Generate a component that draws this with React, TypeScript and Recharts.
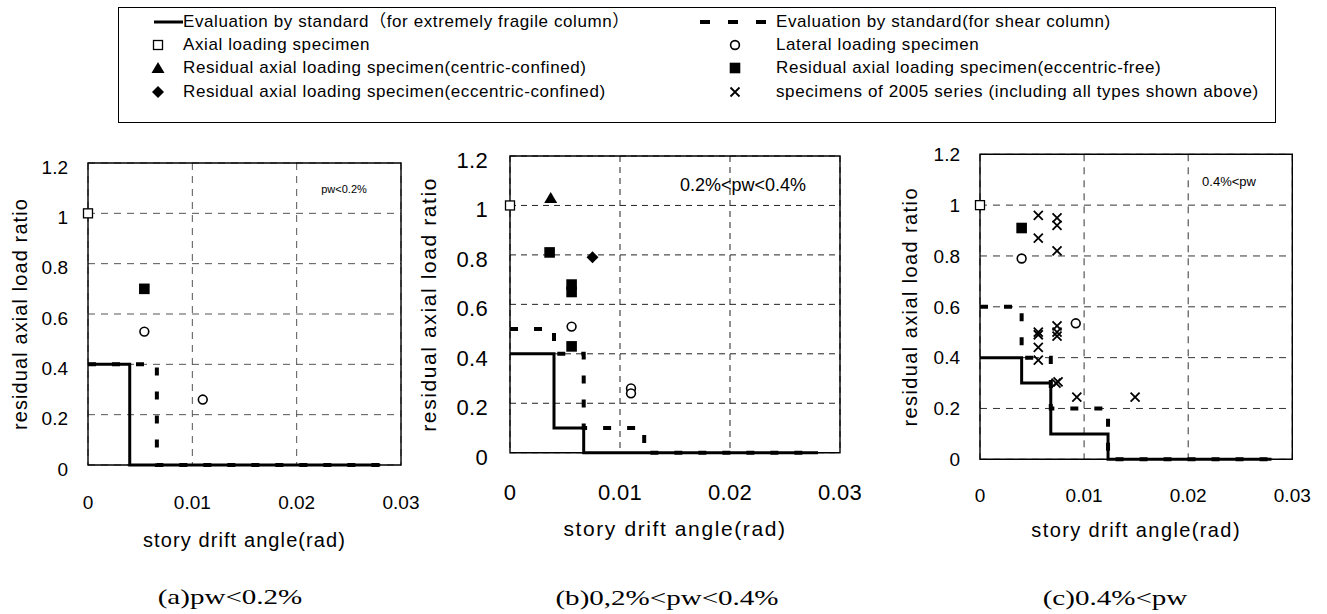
import React from 'react';
import { ComposedChart, Line, Scatter, XAxis, YAxis, CartesianGrid, ReferenceArea, Label } from 'recharts';

type Pt = { x: number; y: number };

const SANS = "'Liberation Sans', Arial, Helvetica, 'Noto Sans CJK JP', sans-serif";
const SERIF = "'Liberation Serif', 'Times New Roman', serif";

const xTicks = [0, 0.01, 0.02, 0.03];
const yTicks = [0, 0.2, 0.4, 0.6, 0.8, 1, 1.2];

// (a) pw<0.2%
const aFragile: Pt[] = [{ x: 0, y: 0.4 }, { x: 0.004, y: 0.4 }, { x: 0.004, y: 0 }, { x: 0.028, y: 0 }];
const aShear: Pt[] = [{ x: 0, y: 0.4 }, { x: 0.0066, y: 0.4 }, { x: 0.0066, y: 0 }, { x: 0.028, y: 0 }];
const aAxial: Pt[] = [{ x: 0, y: 1.0 }];
const aLateral: Pt[] = [{ x: 0.0054, y: 0.53 }, { x: 0.011, y: 0.26 }];
const aEccFree: Pt[] = [{ x: 0.0054, y: 0.7 }];

// (b) 0.2%<pw<0.4%
const bFragile: Pt[] = [
  { x: 0, y: 0.4 }, { x: 0.004, y: 0.4 }, { x: 0.004, y: 0.1 }, { x: 0.0067, y: 0.1 },
  { x: 0.0067, y: 0 }, { x: 0.028, y: 0 },
];
const bShear: Pt[] = [
  { x: 0, y: 0.5 }, { x: 0.004, y: 0.5 }, { x: 0.004, y: 0.4 }, { x: 0.0067, y: 0.4 },
  { x: 0.0067, y: 0.1 }, { x: 0.0122, y: 0.1 }, { x: 0.0122, y: 0 }, { x: 0.028, y: 0 },
];
const bAxial: Pt[] = [{ x: 0, y: 1.0 }];
const bCentric: Pt[] = [{ x: 0.0037, y: 1.03 }];
const bEccFree: Pt[] = [{ x: 0.0036, y: 0.81 }, { x: 0.0056, y: 0.68 }, { x: 0.0056, y: 0.65 }, { x: 0.0056, y: 0.43 }];
const bEccConf: Pt[] = [{ x: 0.0075, y: 0.79 }];
const bLateral: Pt[] = [{ x: 0.0056, y: 0.51 }, { x: 0.011, y: 0.26 }, { x: 0.011, y: 0.24 }];

// (c) 0.4%<pw
const cFragile: Pt[] = [
  { x: 0, y: 0.4 }, { x: 0.004, y: 0.4 }, { x: 0.004, y: 0.3 }, { x: 0.0068, y: 0.3 },
  { x: 0.0068, y: 0.1 }, { x: 0.0123, y: 0.1 }, { x: 0.0123, y: 0 }, { x: 0.028, y: 0 },
];
const cShear: Pt[] = [
  { x: 0, y: 0.6 }, { x: 0.004, y: 0.6 }, { x: 0.004, y: 0.4 }, { x: 0.0068, y: 0.4 },
  { x: 0.0068, y: 0.2 }, { x: 0.0123, y: 0.2 }, { x: 0.0123, y: 0 }, { x: 0.028, y: 0 },
];
const cAxial: Pt[] = [{ x: 0, y: 1.0 }];
const cEccFree: Pt[] = [{ x: 0.004, y: 0.91 }];
const cLateral: Pt[] = [{ x: 0.004, y: 0.79 }, { x: 0.0092, y: 0.535 }];
const c2005: Pt[] = [
  { x: 0.0056, y: 0.96 }, { x: 0.0074, y: 0.95 }, { x: 0.0074, y: 0.92 }, { x: 0.0056, y: 0.87 },
  { x: 0.0074, y: 0.82 }, { x: 0.0056, y: 0.5 }, { x: 0.0056, y: 0.49 }, { x: 0.0056, y: 0.44 },
  { x: 0.0056, y: 0.39 }, { x: 0.0074, y: 0.525 }, { x: 0.0074, y: 0.5 }, { x: 0.0074, y: 0.485 },
  { x: 0.0073, y: 0.3 }, { x: 0.0075, y: 0.305 }, { x: 0.0093, y: 0.245 }, { x: 0.0149, y: 0.245 },
];

type Kind = 'openSquare' | 'circle' | 'triangle' | 'filledSquare' | 'diamond' | 'cross';

const drawMarker = (kind: Kind, cx: number, cy: number) => {
  switch (kind) {
    case 'openSquare':
      return <rect x={cx - 4.5} y={cy - 4.5} width={9} height={9} fill="#fff" stroke="#000" strokeWidth={1.3} />;
    case 'filledSquare':
      return <rect x={cx - 5.3} y={cy - 5.3} width={10.6} height={10.6} fill="#000" />;
    case 'circle':
      return <circle cx={cx} cy={cy} r={4.4} fill="#fff" stroke="#000" strokeWidth={1.6} />;
    case 'triangle':
      return <path d={`M${cx},${cy - 6} L${cx + 6.5},${cy + 5} L${cx - 6.5},${cy + 5} Z`} fill="#000" />;
    case 'diamond':
      return <path d={`M${cx},${cy - 6} L${cx + 6},${cy} L${cx},${cy + 6} L${cx - 6},${cy} Z`} fill="#000" />;
    case 'cross':
      return (
        <path
          d={`M${cx - 4.5},${cy - 4.5} L${cx + 4.5},${cy + 4.5} M${cx + 4.5},${cy - 4.5} L${cx - 4.5},${cy + 4.5}`}
          stroke="#000"
          strokeWidth={1.8}
        />
      );
  }
  return <g />;
};

const markerShape = (kind: Kind) => (p: any) => drawMarker(kind, p.cx, p.cy);

interface PanelCfg {
  left: number;
  top: number;
  width: number;
  height: number;
  mTop: number;
  mRight: number;
  yAxisW: number;
  xAxisH: number;
  tickFont: number;
  tickSpacing: number;
  xTickDrop: number;
  yTickGap: number;
  yTickShift: number;
  titleFont: number;
  titleSpacing: number;
  xTitleBaseline: number;
  yTitleX: number;
  grid: string;
  gridDash: string;
}

interface Series {
  kind: Kind;
  data: Pt[];
}

const Panel = ({ cfg, fragile, shear, series }: { cfg: PanelCfg; fragile: Pt[]; shear: Pt[]; series: Series[] }) => {
  const xTick = (p: any) => (
    <text
      x={p.x}
      y={p.y + cfg.xTickDrop + cfg.tickFont * 0.355}
      textAnchor="middle"
      fontSize={cfg.tickFont}
      fontFamily={SANS}
      letterSpacing={cfg.tickSpacing}
      fill="#000"
    >
      {p.payload.value}
    </text>
  );
  const yTick = (p: any) => (
    <text
      x={p.x - cfg.yTickGap}
      y={p.y + cfg.yTickShift + cfg.tickFont * 0.355}
      textAnchor="end"
      fontSize={cfg.tickFont}
      fontFamily={SANS}
      letterSpacing={cfg.tickSpacing}
      fill="#000"
    >
      {p.payload.value}
    </text>
  );
  const xTitle = (p: any) => {
    const vb = p.viewBox || { x: 0, width: 0 };
    return (
      <text
        x={vb.x + vb.width / 2}
        y={cfg.xTitleBaseline - cfg.top}
        textAnchor="middle"
        fontSize={cfg.titleFont}
        fontFamily={SANS}
        letterSpacing={cfg.titleSpacing}
        fill="#000"
      >
        story drift angle(rad)
      </text>
    );
  };
  const yTitle = (p: any) => {
    const vb = p.viewBox || { y: 0, height: 0 };
    const cx = cfg.yTitleX - cfg.left;
    const cy = vb.y + vb.height / 2;
    return (
      <text
        x={cx}
        y={cy}
        transform={`rotate(-90 ${cx} ${cy})`}
        textAnchor="middle"
        dominantBaseline="central"
        fontSize={cfg.titleFont}
        fontFamily={SANS}
        letterSpacing={cfg.titleSpacing}
        fill="#000"
      >
        residual axial load ratio
      </text>
    );
  };
  return (
    <div style={{ position: 'absolute', left: cfg.left, top: cfg.top }}>
      <ComposedChart
        width={cfg.width}
        height={cfg.height}
        margin={{ top: cfg.mTop, right: cfg.mRight, left: 0, bottom: 0 }}
      >
        <CartesianGrid stroke={cfg.grid} strokeDasharray={cfg.gridDash} strokeWidth={1} />
        <XAxis
          dataKey="x"
          type="number"
          domain={[0, 0.03]}
          ticks={xTicks}
          interval={0}
          height={cfg.xAxisH}
          axisLine={false}
          tickLine={false}
          tickSize={0}
          tickMargin={0}
          tick={xTick}
        >
          <Label content={xTitle} />
        </XAxis>
        <YAxis
          dataKey="y"
          type="number"
          domain={[0, 1.2]}
          ticks={yTicks}
          interval={0}
          width={cfg.yAxisW}
          axisLine={false}
          tickLine={false}
          tickSize={0}
          tickMargin={0}
          tick={yTick}
        >
          <Label content={yTitle} />
        </YAxis>
        <ReferenceArea x1={0} x2={0.03} y1={0} y2={1.2} fill="none" fillOpacity={0} stroke="#000" strokeWidth={1.4} />
        <Line data={fragile} dataKey="y" type="linear" stroke="#000" strokeWidth={3} dot={false} isAnimationActive={false} />
        <Line
          data={shear}
          dataKey="y"
          type="linear"
          stroke="#000"
          strokeWidth={4}
          strokeDasharray="8 16"
          dot={false}
          isAnimationActive={false}
        />
        {series.map((s, i) => (
          <Scatter key={i} data={s.data} dataKey="y" shape={markerShape(s.kind)} isAnimationActive={false} />
        ))}
      </ComposedChart>
    </div>
  );
};

const cfgA: PanelCfg = {
  left: 0, top: 140, width: 431, height: 420, mTop: 23, mRight: 30, yAxisW: 88, xAxisH: 95,
  tickFont: 19, tickSpacing: 0, xTickDrop: 37, yTickGap: 20, yTickShift: 4,
  titleFont: 20, titleSpacing: 1.1, xTitleBaseline: 547, yTitleX: 20,
  grid: '#555', gridDash: '7 6',
};
const cfgB: PanelCfg = {
  left: 410, top: 140, width: 460, height: 420, mTop: 16, mRight: 30, yAxisW: 100, xAxisH: 107.3,
  tickFont: 22, tickSpacing: 0.3, xTickDrop: 39, yTickGap: 22, yTickShift: 4,
  titleFont: 21, titleSpacing: 1.6, xTitleBaseline: 535.5, yTitleX: 429,
  grid: '#222', gridDash: '6 5',
};
const cfgC: PanelCfg = {
  left: 890, top: 140, width: 432.3, height: 420, mTop: 14.3, mRight: 30, yAxisW: 90, xAxisH: 100.7,
  tickFont: 19, tickSpacing: 0, xTickDrop: 36, yTickGap: 20, yTickShift: 0,
  titleFont: 20, titleSpacing: 1.4, xTitleBaseline: 537, yTitleX: 910,
  grid: '#333', gridDash: '7 6',
};

const legendLeft = [
  { icon: 'solid', label: 'Evaluation by standard（for extremely fragile column）' },
  { icon: 'openSquare', label: 'Axial loading specimen' },
  { icon: 'triangle', label: 'Residual axial loading specimen(centric-confined)' },
  { icon: 'diamond', label: 'Residual axial loading specimen(eccentric-confined)' },
];
const legendRight = [
  { icon: 'dashed', label: 'Evaluation by standard(for shear column)' },
  { icon: 'circle', label: 'Lateral loading specimen' },
  { icon: 'filledSquare', label: 'Residual axial loading specimen(eccentric-free)' },
  { icon: 'cross', label: 'specimens of 2005 series (including all types shown above)' },
];
const legendRows = [22, 45, 68, 92];

const LegendBox = () => {
  const icon = (kind: string, cx: number, cy: number, lineFrom: number, lineTo: number) => {
    if (kind === 'solid') return <line x1={lineFrom} x2={lineTo} y1={cy} y2={cy} stroke="#000" strokeWidth={3} />;
    if (kind === 'dashed')
      return <line x1={lineFrom} x2={lineTo} y1={cy} y2={cy} stroke="#000" strokeWidth={4} strokeDasharray="10 18" />;
    return drawMarker(kind as Kind, cx, cy);
  };
  return (
    <>
      <svg style={{ position: 'absolute', left: 0, top: 0 }} width={1327} height={130}>
        <rect x={118.5} y={7.5} width={1157} height={115} fill="#fff" stroke="#000" strokeWidth={1} />
        {legendLeft.map((it, i) => (
          <g key={'l' + i}>{icon(it.icon, 158, legendRows[i], 154, 183)}</g>
        ))}
        {legendRight.map((it, i) => (
          <g key={'r' + i}>{icon(it.icon, 735, legendRows[i], 700, 766)}</g>
        ))}
      </svg>
      {legendLeft.map((it, i) => (
        <div key={'tl' + i} style={{ ...legendText, left: 183, top: legendRows[i] - 10 }}>
          {it.label}
        </div>
      ))}
      {legendRight.map((it, i) => (
        <div key={'tr' + i} style={{ ...legendText, left: 776, top: legendRows[i] - 10 }}>
          {it.label}
        </div>
      ))}
    </>
  );
};

const legendText: React.CSSProperties = {
  position: 'absolute',
  fontFamily: SANS,
  fontSize: 17,
  letterSpacing: 0.6,
  lineHeight: '20px',
  whiteSpace: 'nowrap',
  color: '#000',
};

const notes = [
  { text: 'pw<0.2%', cx: 344, cy: 189, size: 11 },
  { text: '0.2%<pw<0.4%', cx: 743, cy: 185, size: 18 },
  { text: '0.4%<pw', cx: 1229, cy: 182, size: 13 },
];

const captions = [
  { text: '(a)pw<0.2%', cx: 230, cy: 597 },
  { text: '(b)0,2%<pw<0.4%', cx: 667, cy: 598 },
  { text: '(c)0.4%<pw', cx: 1115, cy: 598 },
];

export default function App() {
  return (
    <div style={{ position: 'absolute', left: 0, top: 0, width: 1327, height: 614, background: '#fff', overflow: 'hidden' }}>
      <LegendBox />
      <Panel
        cfg={cfgA}
        fragile={aFragile}
        shear={aShear}
        series={[
          { kind: 'openSquare', data: aAxial },
          { kind: 'circle', data: aLateral },
          { kind: 'filledSquare', data: aEccFree },
        ]}
      />
      <Panel
        cfg={cfgB}
        fragile={bFragile}
        shear={bShear}
        series={[
          { kind: 'openSquare', data: bAxial },
          { kind: 'triangle', data: bCentric },
          { kind: 'filledSquare', data: bEccFree },
          { kind: 'diamond', data: bEccConf },
          { kind: 'circle', data: bLateral },
        ]}
      />
      <Panel
        cfg={cfgC}
        fragile={cFragile}
        shear={cShear}
        series={[
          { kind: 'openSquare', data: cAxial },
          { kind: 'filledSquare', data: cEccFree },
          { kind: 'circle', data: cLateral },
          { kind: 'cross', data: c2005 },
        ]}
      />
      {notes.map((n, i) => (
        <div
          key={'n' + i}
          style={{
            position: 'absolute',
            left: n.cx - 100,
            width: 200,
            top: n.cy - 12,
            lineHeight: '24px',
            textAlign: 'center',
            fontFamily: SANS,
            fontSize: n.size,
            color: '#000',
          }}
        >
          {n.text}
        </div>
      ))}
      {captions.map((c, i) => (
        <div
          key={'c' + i}
          style={{
            position: 'absolute',
            left: c.cx - 150,
            width: 300,
            top: c.cy - 15,
            lineHeight: '30px',
            textAlign: 'center',
            fontFamily: SERIF,
            fontSize: 22,
            transform: 'scaleX(1.32)',
            color: '#000',
          }}
        >
          {c.text}
        </div>
      ))}
    </div>
  );
}
